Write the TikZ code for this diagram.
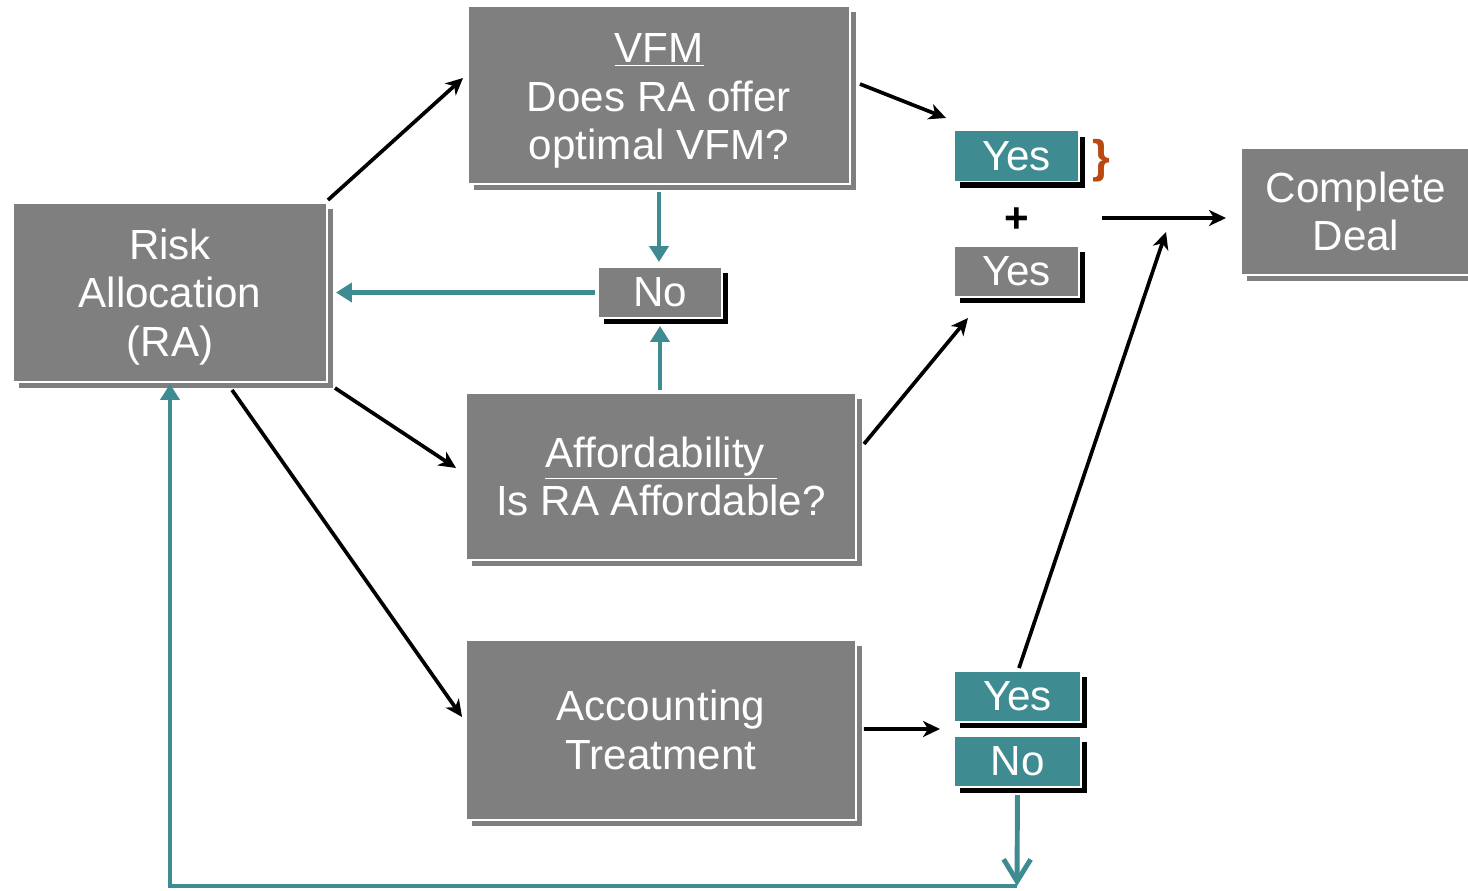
\documentclass[tikz,border=0pt]{standalone}
\usepackage{fontspec}
\setmainfont{Liberation Sans}
\usetikzlibrary{arrows.meta,calc,shadows}
\definecolor{boxgray}{RGB}{127,127,127}
\definecolor{petrol}{RGB}{62,140,145}
\definecolor{rouille}{RGB}{185,72,18}

\begin{document}
\begin{tikzpicture}[x=0.02cm, y=-0.02cm,
	box/.style={fill=boxgray, draw=white, line width=0.8pt, text=white, align=center,
		inner sep=0pt, outer sep=0pt, font=\fontsize{24}{27.6}\selectfont},
	bigbox/.style={box, general shadow={fill=boxgray, draw=none, shadow xshift=0.12cm, shadow yshift=-0.12cm}},
	smallbox/.style={box, minimum width=2.5cm, minimum height=1.02cm,
		general shadow={fill=black, draw=none, shadow xshift=0.12cm, shadow yshift=-0.12cm}},
	blkarrow/.style={line width=2.1pt, -{Stealth[length=0.34cm, width=0.32cm, inset=0.1cm]}},
	tealline/.style={petrol, line width=2.8pt},
	tealarrow/.style={tealline, -{Triangle[length=0.32cm, width=0.38cm]}}]

		\useasboundingbox[fill=white] (0,0) rectangle (1468,890);

		%les grandes boites
		\node[bigbox, minimum width=6.28cm, minimum height=3.58cm] (ra) at (170,292.5) {\rule{0pt}{0.78cm}Risk\\Allocation\\(RA)};
		\node[bigbox, minimum width=7.64cm, minimum height=3.56cm] (vfm) at (659,95) {\rule{0pt}{0.82cm}\underline{VFM}\\Does RA offer\\optimal VFM?};
		\node[bigbox, minimum width=7.80cm, minimum height=3.34cm] (aff) at (661,476.5) {\underline{Affordability~}\\Is RA Affordable?};
		\node[bigbox, minimum width=7.80cm, minimum height=3.60cm] (acc) at (661,730) {Accounting\\Treatment};
		\node[bigbox, minimum width=4.60cm, minimum height=2.54cm] (deal) at (1356,211.5) {Complete\\Deal};

		%les petites boites
		\node[smallbox, minimum width=2.48cm] (no1) at (660,292.5) {No};
		\node[smallbox, fill=petrol] (yes1) at (1016.5,156) {Yes};
		\node[smallbox] (yes2) at (1016.5,271.5) {Yes};
		\node[smallbox, fill=petrol, minimum width=2.54cm] (yes3) at (1017.5,696.5) {Yes};
		\node[smallbox, fill=petrol, minimum width=2.54cm] (no2) at (1017.5,761.5) {No};

		\node[font=\fontsize{24}{28}\selectfont\bfseries] (plus) at (1017,220) {+};
		\node[font=\fontsize{26}{28}\selectfont\bfseries, text=rouille] (brace) at (1101,161) {\}};
		\coordinate (join) at (1102,218);
		\coordinate (loop) at (1017,886);

		%fleches noires
		\draw[blkarrow] ($(ra.north east)+(1,-3)$) -- ($(vfm.west)+(-5,-17)$);
		\draw[blkarrow] ($(vfm.east)+(10,-11)$) -- ($(yes1.west)+(-8,-38)$);
		\draw[blkarrow] ($(ra.south east)+(8,6)$) -- ($(aff.west)+(-10,-8.5)$);
		\draw[blkarrow] ($(ra.south)+(62,8)$) -- ($(acc.west)+(-4,-13)$);
		\draw[blkarrow] ($(aff.east)+(8,-32.5)$) -- ($(yes2.south)+(-48.5,21)$);
		\draw[blkarrow] ($(acc.east)+(8,-1)$) -- ($(yes3.south west)+(-14,7)$);
		\draw[blkarrow, shorten >=0.3cm] (join) -- (deal.west |- join);
		\draw[blkarrow] ($(yes3.north)+(1.5,-3)$) -- ($(deal.south west)+(-75,-43)$);

		%fleches bleues
		\draw[tealarrow, shorten <=0.16cm, shorten >=0.1cm] (vfm.south) -- (vfm.south |- no1.north);
		\draw[tealarrow, shorten <=0.06cm, shorten >=0.16cm] (aff.north -| no1.south) -- (no1.south);
		\draw[tealarrow, shorten <=0.06cm, shorten >=0.18cm] (no1.west) -- (ra.east);
		\draw[tealline, -{Straight Barb[length=0.44cm, width=0.54cm]}, shorten <=0.16cm] (no2.south) -- (loop);
		\draw[tealarrow, shorten >=0.04cm] (loop) -- (ra.south |- loop) -- (ra.south);

\end{tikzpicture}
\end{document}
